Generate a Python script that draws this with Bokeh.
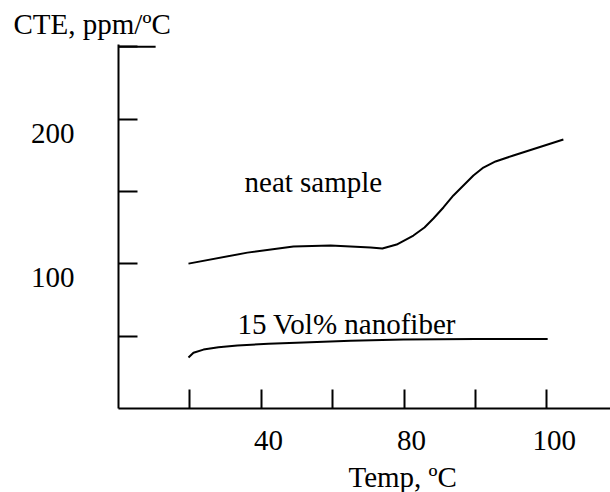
from bokeh.plotting import figure
from bokeh.models import Range1d, FixedTicker, Title
from bokeh.core.properties import value
from bokeh.embed import file_html
from bokeh.resources import INLINE

# ---- data ----
temp_neat = [19.6, 36.1, 49.0, 59.4, 70.6, 73.9, 77.9, 82.6, 85.7, 88.2, 91.0, 93.8,
             96.6, 99.4, 102.2, 105.6, 110.6, 124.6]
cte_neat = [100.1, 107.7, 111.9, 112.6, 111.2, 110.5, 113.3, 119.5, 125.1, 131.3, 138.9, 147.2,
            154.1, 161.0, 166.5, 170.7, 174.8, 185.9]

temp_nano = [19.6, 21.0, 23.8, 28.0, 33.3, 42.0, 51.8, 65.0, 79.8, 100.0, 120.2]
cte_nano = [35.2, 38.5, 40.7, 42.3, 43.5, 44.7, 45.6, 46.8, 47.7, 48.0, 48.0]

x_ticks = [20, 40, 60, 80, 100, 120]
x_tick_labels = ["", "40", "", "80", "", "100"]
y_ticks = [50, 100, 150, 200, 250]
y_tick_labels = ["", "100", "", "200", ""]

series_names = ["neat sample", "15 Vol% nanofiber"]
label_x = [35.3, 33.3]
label_y = [156.8, 58.7]

FONT = "Liberation Serif"
FS = "29px"

p = figure(width=610, height=492,
           x_range=Range1d(0, 137.8), y_range=Range1d(0, 251.5),
           output_backend="svg", toolbar_location=None,
           min_border_left=118, min_border_right=0,
           min_border_top=44, min_border_bottom=20)

p.outline_line_color = None
p.xgrid.visible = False
p.ygrid.visible = False
p.background_fill_color = "white"
p.border_fill_color = "white"

# title (y-axis caption at top-left)
p.title.text = "CTE, ppm/\u00baC"
p.title.align = "left"
p.title.offset = -105
p.title.text_font = FONT
p.title.text_font_style = "normal"
p.title.text_font_size = FS
p.title.text_color = "black"

# x axis (labels sit a little right of their ticks in the reference)
xa = p.xaxis[0]
xa.ticker = FixedTicker(ticks=x_ticks)
xa.major_label_overrides = {t: ("\u00a0\u00a0" + l if l else "") for t, l in zip(x_ticks, x_tick_labels)}
xa.minor_tick_line_color = None
xa.major_tick_in = 19
xa.major_tick_out = 0
xa.major_tick_line_width = 2
xa.axis_line_width = 2
xa.axis_line_color = "black"
xa.major_tick_line_color = "black"
xa.major_label_text_font = FONT
xa.major_label_text_font_size = FS
xa.major_label_text_color = "black"
xa.major_label_text_line_height = 1.0
xa.major_label_standoff = 15

# y axis (labels sit a little below their ticks in the reference)
ya = p.yaxis[0]
ya.ticker = FixedTicker(ticks=y_ticks)
ya.major_label_overrides = {t: ("\n" + l if l else "") for t, l in zip(y_ticks, y_tick_labels)}
ya.minor_tick_line_color = None
ya.major_tick_in = 19
ya.major_tick_out = 0
ya.major_tick_line_width = 2
ya.axis_line_width = 2
ya.axis_line_color = "black"
ya.major_tick_line_color = "black"
ya.major_label_text_font = FONT
ya.major_label_text_font_size = FS
ya.major_label_text_color = "black"
ya.major_label_text_line_height = 0.85
ya.major_label_standoff = 44

# x-axis caption
p.add_layout(Title(text="Temp, \u00baC", align="left", offset=230, standoff=0,
                   text_font=FONT, text_font_style="normal",
                   text_font_size=FS, text_color="black"), "below")

# longer cap at the top of the y axis
p.segment(x0=[0], y0=[y_ticks[-1]], x1=[10.4], y1=[y_ticks[-1]],
          line_color="black", line_width=2)

# curves
p.line(temp_neat, cte_neat, line_color="black", line_width=2, line_join="round")
p.line(temp_nano, cte_nano, line_color="black", line_width=2, line_join="round")

# curve labels
p.text(x=label_x, y=label_y, text=series_names,
       text_font=value(FONT), text_font_size=FS, text_color="black",
       text_align="left", text_baseline="alphabetic")

open("out.html", "w").write(file_html(p, INLINE))
